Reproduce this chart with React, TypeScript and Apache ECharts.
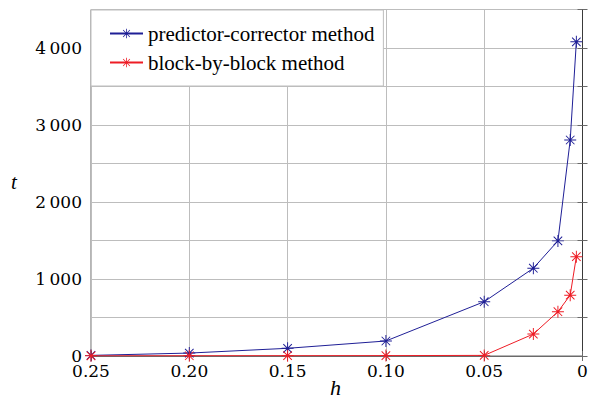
import React, { useEffect, useRef } from "react";
import * as echarts from "echarts";

const hValues = [0.25, 0.2, 0.15, 0.1, 0.05, 0.025, 0.0125, 0.00625, 0.003125];
const predictorCorrector = [8, 38, 100, 195, 705, 1140, 1495, 2805, 4080];
const blockByBlock = [2, 3, 4, 5, 8, 285, 575, 790, 1290];
const seriesNames = ["predictor-corrector method", "block-by-block method"];
const xAxisName = "h";
const yAxisName = "t";

const STAR =
  "path://M9.2 0 H10.8 V20 H9.2 Z M0 9.2 H20 V10.8 H0 Z " +
  "M3.47 2.33 L17.67 16.53 L16.53 17.67 L2.33 3.47 Z " +
  "M17.67 3.47 L3.47 17.67 L2.33 16.53 L16.53 2.33 Z";

const FONT = "'Liberation Serif', 'Times New Roman', Times, serif";
const DIGIT_FONT = "'DejaVu Serif', serif";

function fmtY(v: number): string {
  if (v % 1000 !== 0 || v > 4000) return "";
  if (v === 0) return "0";
  const s = String(v);
  return s.slice(0, s.length - 3) + "\u2009" + s.slice(s.length - 3);
}

function fmtX(v: number): string {
  if (Math.abs(v) < 1e-9) return "0";
  return v.toFixed(2);
}

export default function App() {
  const ref = useRef<HTMLDivElement>(null);
  useEffect(() => {
    if (!ref.current) return;
    const chart = echarts.init(ref.current, undefined, { renderer: "svg" });
    const blue = "#1f1f96";
    const red = "#ee1c25";
    const grid = "#bdbdbd";
    chart.setOption({
      animation: false,
      backgroundColor: "#ffffff",
      textStyle: { fontFamily: FONT },
      grid: {
        left: 91,
        right: 16.5,
        top: 9.5,
        bottom: 45,
        show: true,
        borderColor: "#6a6a6a",
        borderWidth: 1,
      },
      legend: {
        left: 91,
        top: 10,
        orient: "vertical",
        backgroundColor: "#ffffff",
        borderColor: grid,
        borderWidth: 1,
        padding: [13, 9, 13, 18],
        itemGap: 8,
        itemWidth: 33,
        itemHeight: 12,
        textStyle: { fontFamily: FONT, fontSize: 21, color: "#000" },
        data: seriesNames,
      },
      xAxis: [
        {
          type: "value",
          min: 0,
          max: 0.25,
          interval: 0.05,
          inverse: true,
          axisLine: { show: true, lineStyle: { color: "#6a6a6a" } },
          axisTick: { show: true, inside: true, length: 5, lineStyle: { color: "#6a6a6a" } },
          splitLine: { show: true, lineStyle: { color: grid, width: 1 } },
          axisLabel: {
            formatter: fmtX,
            fontFamily: DIGIT_FONT,
            fontSize: 17,
            color: "#000",
            margin: 6,
          },
        },
        {
          type: "value",
          position: "top",
          min: 0,
          max: 0.25,
          interval: 0.05,
          inverse: true,
          axisLine: { show: false },
          axisTick: { show: true, inside: true, length: 5, lineStyle: { color: "#6a6a6a" } },
          splitLine: { show: false },
          axisLabel: { show: false },
        },
      ],
      yAxis: [
        {
          type: "value",
          min: 0,
          max: 4500,
          interval: 500,
          axisLine: { show: true, lineStyle: { color: "#3a3a3a" } },
          axisTick: { show: true, inside: true, length: 5, lineStyle: { color: "#6a6a6a" } },
          splitLine: { show: true, lineStyle: { color: grid, width: 1 } },
          axisLabel: {
            formatter: fmtY,
            fontFamily: DIGIT_FONT,
            fontSize: 17,
            color: "#000",
            margin: 9,
            showMaxLabel: true,
          },
        },
        {
          type: "value",
          position: "right",
          min: 0,
          max: 4500,
          interval: 500,
          axisLine: { show: false },
          axisTick: { show: true, inside: true, length: 5, lineStyle: { color: "#6a6a6a" } },
          splitLine: { show: false },
          axisLabel: { show: false },
        },
      ],
      graphic: [
        {
          type: "text",
          left: 11,
          top: 171,
          style: {
            text: yAxisName,
            fontFamily: FONT,
            fontStyle: "italic",
            fontSize: 21,
            fill: "#000",
          },
        },
        {
          type: "text",
          left: 330,
          top: 376,
          style: {
            text: xAxisName,
            fontFamily: FONT,
            fontStyle: "italic",
            fontSize: 22,
            fill: "#000",
          },
        },
      ],
      series: [
        {
          name: seriesNames[0],
          type: "line",
          data: hValues.map((h, i) => [h, predictorCorrector[i]]),
          symbol: STAR,
          symbolSize: 12,
          showAllSymbol: true,
          lineStyle: { color: blue, width: 1 },
          itemStyle: { color: blue },
          z: 3,
        },
        {
          name: seriesNames[1],
          type: "line",
          data: hValues.map((h, i) => [h, blockByBlock[i]]),
          symbol: STAR,
          symbolSize: 12,
          showAllSymbol: true,
          lineStyle: { color: red, width: 1 },
          itemStyle: { color: red },
          z: 4,
        },
      ],
    });
    return () => chart.dispose();
  }, []);
  return (
    <div
      ref={ref}
      style={{ position: "fixed", left: 0, top: 0, width: 599, height: 401 }}
    />
  );
}
